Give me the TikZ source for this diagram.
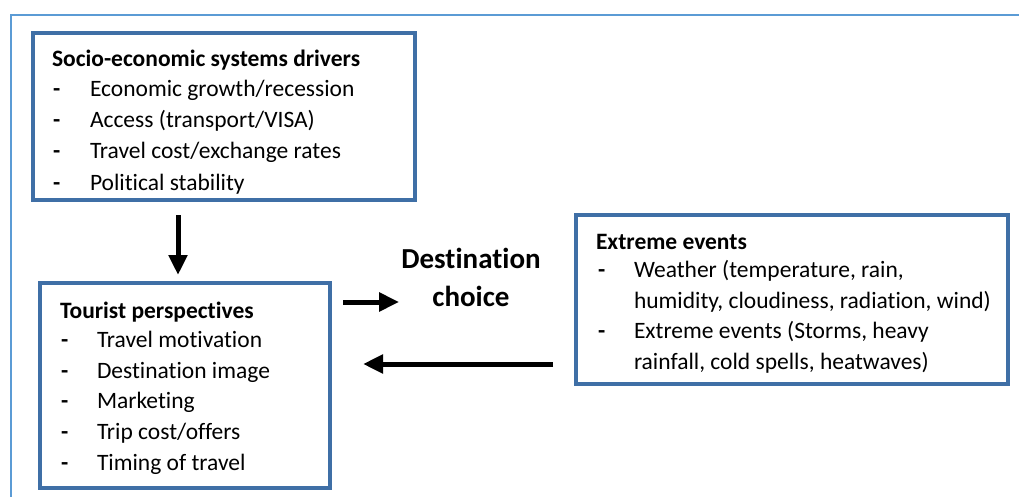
\documentclass[tikz,border=0pt]{standalone}
\usepackage{fontspec}
\setmainfont{Carlito}[Ligatures=NoCommon]
\usetikzlibrary{arrows.meta}
\definecolor{boxblue}{HTML}{3F6FA6}
\definecolor{frameblue}{HTML}{5B9BD5}
\tikzset{
  box/.style={draw=boxblue, line width=4pt, rectangle, inner sep=0pt, outer sep=0pt, fill=white},
  txt/.style={anchor=base west, inner sep=0pt, outer sep=0pt, font=\fontsize{23.5}{28}\selectfont},
  ttl/.style={txt, font=\fontsize{23.5}{28}\selectfont\bfseries},
  dsh/.style={txt, font=\fontsize{23.5}{28}\selectfont\bfseries},
  arr/.style={line width=5pt, -{Triangle[length=20pt,width=18pt]}},
}
\begin{document}
\begin{tikzpicture}[x=1pt,y=-1pt]
\useasboundingbox (0,0) rectangle (1019,497);
\draw[frameblue, line width=2pt] (11,498) -- (11,15) -- (1020,15);
% boxes
\node[box, minimum width=382pt, minimum height=167pt] (b1) at (224,116.5) {};
\node[box, minimum width=290pt, minimum height=205pt] (b2) at (185,385.5) {};
\node[box, minimum width=432pt, minimum height=169pt] (b3) at (792,299.5) {};
% box 1 text
\node[ttl] (t1) at (52,67) {Socio-economic systems drivers};
\node[dsh] (d11) at (53,97) {-};   \node[txt] (i11) at (90,97) {Economic growth/recession};
\node[dsh] (d12) at (53,128) {-};  \node[txt] (i12) at (90,128) {Access (transport/VISA)};
\node[dsh] (d13) at (53,159) {-};  \node[txt] (i13) at (90,159) {Travel cost/exchange rates};
\node[dsh] (d14) at (53,190) {-};  \node[txt] (i14) at (90,190) {Political stability};
% box 2 text
\node[ttl] (t2) at (60,318) {Tourist perspectives};
\node[dsh] (d21) at (61,347) {-};  \node[txt] (i21) at (97,347) {Travel motivation};
\node[dsh] (d22) at (61,378) {-};  \node[txt] (i22) at (97,378) {Destination image};
\node[dsh] (d23) at (61,408) {-};  \node[txt] (i23) at (97,408) {Marketing};
\node[dsh] (d24) at (61,439) {-};  \node[txt] (i24) at (97,439) {Trip cost/offers};
\node[dsh] (d25) at (61,470) {-};  \node[txt] (i25) at (97,470) {Timing of travel};
% box 3 text
\node[ttl] (t3) at (596,249) {Extreme events};
\node[dsh] (d31) at (598,277) {-};  \node[txt] (i31) at (634,277) {Weather (temperature, rain,};
\node[txt] (i32) at (634,308) {humidity, cloudiness, radiation, wind)};
\node[dsh] (d33) at (598,338) {-};  \node[txt] (i33) at (634,338) {Extreme events (Storms, heavy};
\node[txt] (i34) at (634,369) {rainfall, cold spells, heatwaves)};
% destination choice
\node[anchor=base, inner sep=0pt, align=center, font=\fontsize{29}{38}\selectfont\bfseries] (dc) at (471,306) {Destination\\choice};
% arrows
\coordinate (dx) at (178,0);
\coordinate (ry) at (0,302);
\coordinate (ly) at (0,364);
\draw[arr, shorten <=15pt, shorten >=8pt] (b1.south -| dx) -- (b2.north -| dx);
\draw[arr, shorten <=13pt, shorten >=2pt] (b2.east |- ry) -- (dc.west |- ry);
\draw[arr, shorten <=23pt, shorten >=33pt] (b3.west |- ly) -- (b2.east |- ly);
\end{tikzpicture}
\end{document}
